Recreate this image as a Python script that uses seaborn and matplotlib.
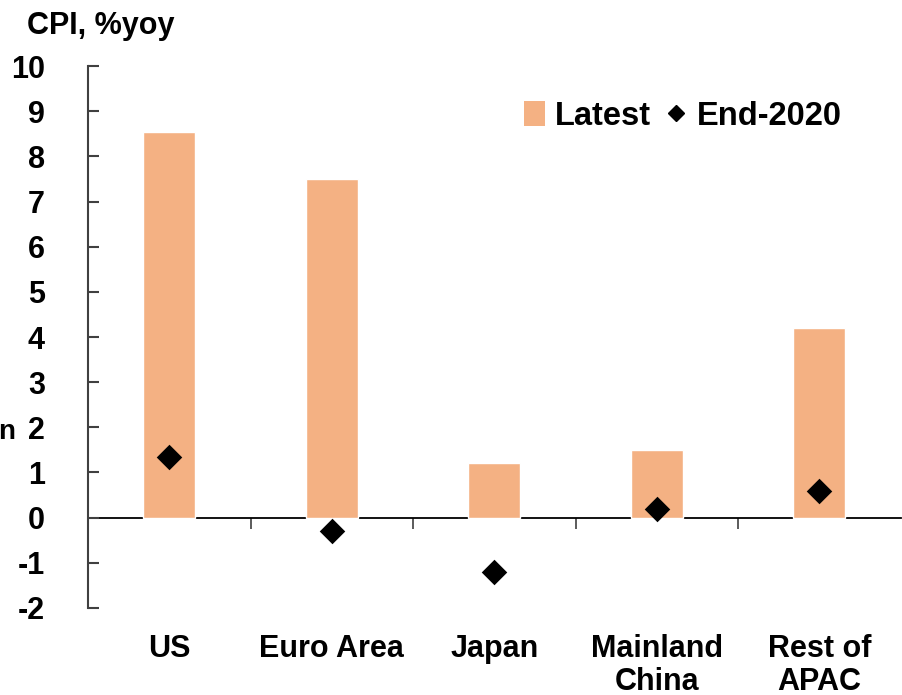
import pandas as pd
import matplotlib.pyplot as plt
import seaborn as sns
from matplotlib.patches import Patch
from matplotlib.lines import Line2D

# data
regions = ["US", "Euro Area", "Japan", "Mainland\nChina", "Rest of\nAPAC"]
latest = [8.55, 7.5, 1.2, 1.5, 4.2]
end_2020 = [1.35, -0.3, -1.2, 0.2, 0.6]

bar_color = "#F4B183"

df = pd.DataFrame({"region": regions, "latest": latest, "end_2020": end_2020})

sns.set_style("white")
plt.rcParams["font.family"] = ["Liberation Sans", "DejaVu Sans"]
plt.rcParams["font.weight"] = "bold"
plt.rcParams["axes.unicode_minus"] = False
plt.rcParams["text.color"] = "black"
plt.rcParams["xtick.color"] = "black"
plt.rcParams["ytick.color"] = "black"

fig = plt.figure(figsize=(9.03, 6.95), dpi=100)
ax = fig.add_axes([0.0975, 0.1252, 0.9, 0.7798])

sns.barplot(data=df, x="region", y="latest", color=bar_color, width=0.32,
            saturation=1, ax=ax)
sns.stripplot(data=df, x="region", y="end_2020", color="black", marker="D",
              size=13, jitter=False, ax=ax, zorder=5)

ax.set_ylim(-2, 10)
ax.set_xlim(-0.5, 4.5)
ax.set_yticks(range(-2, 11))
ax.set_xlabel("")
ax.set_ylabel("")

for side in ["top", "right", "bottom"]:
    ax.spines[side].set_visible(False)
ax.spines["left"].set_color("#404040")
ax.spines["left"].set_linewidth(1.5)

ax.tick_params(axis="y", left=True, direction="in", length=8, width=1.5,
               color="#404040", labelcolor="black", labelsize=22, pad=31)
ax.tick_params(axis="x", length=0, pad=19, labelcolor="black")
for lab in ax.get_yticklabels():
    lab.set_fontweight("bold")
for lab in ax.get_xticklabels():
    lab.set_fontweight("bold")
    lab.set_fontsize(22)
    lab.set_linespacing(1.1)

# zero line with category boundary ticks
zero_ax = ax.secondary_xaxis(2 / 12)
zero_ax.set_xticks([0.5, 1.5, 2.5, 3.5])
zero_ax.set_xticklabels([])
zero_ax.tick_params(bottom=True, direction="out", length=8, width=1.2,
                    color="#404040")
zero_ax.spines["bottom"].set_linewidth(1.3)
zero_ax.spines["bottom"].set_color("black")

fig.text(0.03, 0.962, "CPI, %yoy", fontsize=22, fontweight="bold", va="center")
fig.text(-0.002, 0.378, "n", fontsize=20, fontweight="bold", va="center")

handles = [
    Patch(facecolor=bar_color, edgecolor="none", label="Latest"),
    Line2D([], [], marker="D", color="black", linestyle="none", markersize=8,
           label="End-2020"),
]
ax.legend(handles=handles, ncol=2, frameon=False, loc="upper left",
          bbox_to_anchor=(0.52, 0.96), handlelength=0.65,
          handleheight=0.8, handletextpad=0.3, columnspacing=0.45,
          borderaxespad=0, prop={"weight": "bold", "size": 23.5})

fig.savefig("out.png", dpi=100)
